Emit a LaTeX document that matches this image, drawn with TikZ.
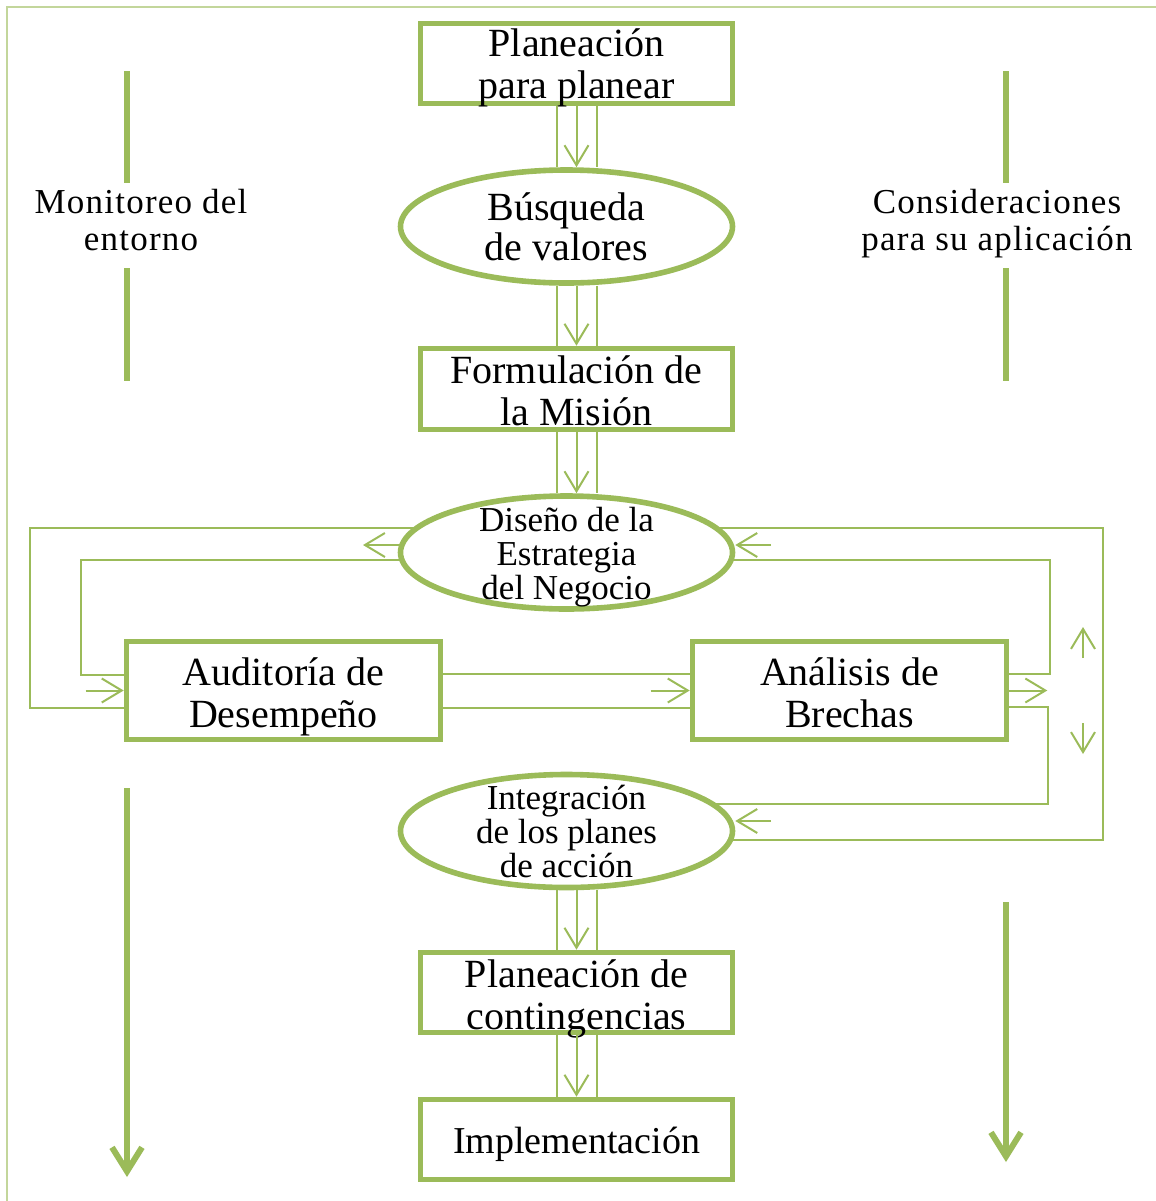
\documentclass[tikz,border=0pt]{standalone}
\usepackage{fontspec}
\setmainfont{Liberation Serif}
\usetikzlibrary{arrows.meta,shapes.geometric,backgrounds}
\definecolor{grn}{HTML}{9BBB59}
\definecolor{lgrn}{HTML}{C3D69B}
\newcommand\dblarr[3]{%
  \draw[conn] ([xshift=-10pt]#3.center |- #1.south) -- ([xshift=-10pt]#3.center |- #2.north);
  \draw[conn] ([xshift=10pt]#3.center |- #1.south) -- ([xshift=10pt]#3.center |- #2.north);
  \draw[arr] (#3.center |- #1.south) -- (#3.center |- #2.north);}
\begin{document}
\begin{tikzpicture}[x=0.5pt,y=-0.5pt,
  box/.style={draw=grn,line width=2.8pt,fill=white,rectangle,inner sep=0pt,align=center,
    minimum width=156pt,minimum height=40pt,font=\fontsize{20}{21}\selectfont,
    text height=36.5pt,text depth=0pt},
  oval/.style={draw=grn,line width=2.8pt,fill=white,ellipse,inner sep=0pt,align=center,
    minimum width=166pt,minimum height=56.5pt},
  big/.style={font=\fontsize{20}{20}\selectfont},
  small/.style={font=\fontsize{17.5}{17}\selectfont,
    text height=46.6pt,text depth=0pt,inner ysep=-4pt},
  conn/.style={draw=grn,line width=1pt},
  arr/.style={conn,-{Straight Barb[length=10pt,width=12pt]}},
  side/.style={draw=grn,line width=3pt},
  sidearr/.style={side,-{Straight Barb[length=12pt,width=15pt]}},
  sidetext/.style={align=center,inner sep=0pt,
    font=\fontsize{17.5}{18.5}\selectfont\addfontfeature{LetterSpace=3.5},
    text height=30.6pt,text depth=0pt},
  frame/.style={draw=lgrn,line width=1.25pt}]
\useasboundingbox (0,0) rectangle (1156,1201);
\draw[frame] (7,1201) -- (7,7) -- (1156,7);

% main nodes
\node[box,text height=34.5pt] (p1) at (576.5,63.5) {Planeación\\para planear};
\node[oval,big] (b1) at (566.5,226.5) {Búsqueda\\de valores};
\node[box,minimum height=40.5pt] (f1) at (576.5,389) {Formulación de\\la Misión};
\node[oval,small] (d1) at (566.5,552.5) {Diseño de la\\Estrategia\\del Negocio};
\node[box,minimum width=157pt,minimum height=49pt] (a1) at (283.5,690.5) {Auditoría de\\Desempeño};
\node[box,minimum width=157pt,minimum height=49pt] (n1) at (849.5,690.5) {Análisis de\\Brechas};
\node[oval,small] (i1) at (566.5,831) {Integración\\de los planes\\de acción};
\node[box] (c1) at (576.5,992.5) {Planeación de\\contingencias};
\node[box,font=\fontsize{19}{21}\selectfont,text height=14pt,text depth=0pt] (m1) at (576.5,1139.5) {Implementación};

% side texts and lines
\node[sidetext] (mon) at (141,220) {Monitoreo del\\entorno};
\node[sidetext] (con) at (997,220) {Consideraciones\\para su aplicación};
\draw[side] (127,71) -- (127,183);
\draw[side] (127,268) -- (127,381);
\draw[sidearr] (127,788) -- (127,1177);
\draw[side] (1006,71) -- (1006,183);
\draw[side] (1006,268) -- (1006,381);
\draw[sidearr] (1006,902) -- (1006,1162);

% vertical double arrows
\dblarr{p1}{b1}{p1}
\dblarr{b1}{f1}{f1}
\dblarr{f1}{d1}{f1}
\dblarr{i1}{c1}{c1}
\dblarr{c1}{m1}{c1}

% feedback loops
\begin{scope}[on background layer]
\draw[conn] (d1.center |- 0,528) -- (30,528) -- (30,708) -- (a1.west |- 0,708);
\draw[conn] (d1.center |- 0,560) -- (81,560) -- (81,675) -- (a1.west |- 0,675);
\draw[arr] (d1.center |- 0,545) -- (363,545);
\draw[conn] (n1.east |- 0,674) -- (1050,674) -- (1050,560) -- (d1.center |- 0,560);
\draw[conn] (d1.center |- 0,528) -- (1103,528) -- (1103,840) -- (i1.center |- 0,840);
\draw[conn] (n1.east |- 0,707) -- (1048,707) -- (1048,804) -- (i1.center |- 0,804);
\end{scope}
\draw[arr] ([xshift=-19pt]a1.west) -- (a1.west);
\draw[conn] (a1.east |- 0,674) -- (n1.west |- 0,674);
\draw[conn] (a1.east |- 0,708) -- (n1.west |- 0,708);
\draw[arr] ([xshift=-19.5pt]n1.west) -- (n1.west);
\draw[arr] (n1.east) -- ++(38,0);
\draw[arr] (771,545) -- (d1.east |- 0,545);
\draw[arr] (771,821) -- (i1.east |- 0,821);
\draw[arr] (1083,658) -- (1083,627);
\draw[arr] (1083,723) -- (1083,754);
\end{tikzpicture}
\end{document}
